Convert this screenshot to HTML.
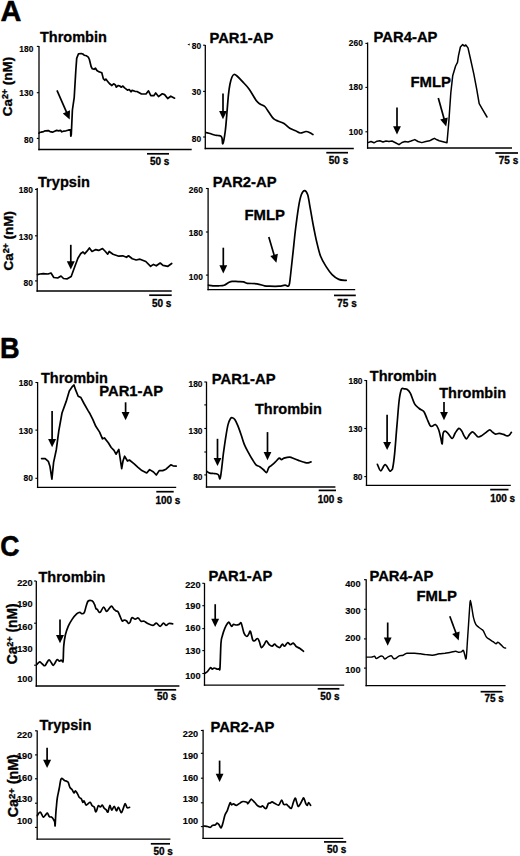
<!DOCTYPE html>
<html><head><meta charset="utf-8"><style>
html,body{margin:0;padding:0;background:#fff;width:520px;height:856px;overflow:hidden;}
svg{display:block;}
text{font-family:"Liberation Sans", sans-serif;font-weight:bold;fill:#000;stroke:#000;stroke-linejoin:round;}
</style></head><body>
<svg width="520" height="856" viewBox="0 0 520 856">
<g stroke="#000" fill="#000">
<text transform="translate(0.6,21.4) scale(0.98,1)" font-size="29.5" text-anchor="start" style="stroke-width:0.51px" >A</text>
<text transform="translate(0.0,358.1) scale(0.92,1)" font-size="29.5" text-anchor="start" style="stroke-width:0.54px" >B</text>
<text transform="translate(0.2,555.8) scale(0.9,1)" font-size="29.5" text-anchor="start" style="stroke-width:0.56px" >C</text>
<text x="40" y="42.4" font-size="14.5" text-anchor="start" style="stroke-width:0.3px" >Thrombin</text>
<line x1="39" y1="46" x2="39" y2="150.15" stroke-width="1.3"/>
<line x1="38.35" y1="149.5" x2="191.7" y2="149.5" stroke-width="1.3"/>
<line x1="36.8" y1="46.4" x2="39" y2="46.4" stroke-width="1.1"/>
<line x1="36.8" y1="92.7" x2="39" y2="92.7" stroke-width="1.1"/>
<line x1="36.8" y1="138.4" x2="39" y2="138.4" stroke-width="1.1"/>
<text x="33.3" y="51.807199999999995" font-size="8.4" text-anchor="end" style="stroke-width:0.15px" >180</text>
<text x="33.3" y="96.10719999999999" font-size="8.4" text-anchor="end" style="stroke-width:0.15px" >130</text>
<text x="33.3" y="142.90720000000002" font-size="8.4" text-anchor="end" style="stroke-width:0.15px" >80</text>
<text transform="translate(11.9,86.6) rotate(-90)" font-size="13.5" text-anchor="middle" style="stroke-width:0.35px">Ca<tspan font-size="8.8" dy="-3.6">2+</tspan><tspan dy="3.6"> (nM)</tspan></text>
<polyline points="39.0,133.2 39.6,132.4 41.1,132.2 43.6,131.6 45.3,130.8 48.3,130.6 50.0,131.6 52.5,132.2 54.6,131.3 56.7,130.4 58.8,130.8 60.5,130.4 61.8,131.8 63.5,131.2 66.0,130.8 68.1,130.2 69.8,129.8 70.6,130.3 70.8,136.2 71.3,134.5 72.4,110.0 74.2,97.7 75.8,70.8 76.7,58.4 78.5,53.8 81.3,53.5 82.8,54.0 84.2,55.2 86.5,55.8 88.3,57.2 89.4,59.5 91.1,66.5 92.3,68.8 94.0,69.3 95.5,68.2 96.9,70.5 98.6,71.6 100.4,72.2 101.8,72.8 103.3,78.6 104.8,80.3 105.9,79.1 107.3,80.9 109.6,83.8 111.9,85.5 113.6,83.8 115.4,84.9 116.3,87.2 118.3,85.5 120.0,86.1 121.1,87.2 122.9,86.1 124.6,87.8 127.5,90.1 129.2,89.5 131.0,91.8 132.1,90.4 135.0,91.3 137.0,91.5 141.5,94.0 146.0,94.0 148.5,90.8 150.8,95.7 153.8,95.7 155.7,93.0 158.5,96.6 162.3,93.8 164.6,94.6 167.7,98.5 170.8,96.2 174.6,98.2" fill="none" stroke-width="1.7" stroke-linejoin="round" stroke-linecap="round"/>
<line x1="57" y1="90.4" x2="66.79907963640674" y2="112.84305336080253" stroke-width="1.7"/>
<polygon points="69.7,119.4 62.8,113.5 70.0,110.3" stroke="none"/>
<line x1="147" y1="153.8" x2="169" y2="153.8" stroke-width="1.7"/>
<text transform="translate(150,165.2) scale(0.98,1)" font-size="10.2" text-anchor="start" style="stroke-width:0.31px" >50 s</text>
<text x="209.4" y="42.8" font-size="14.8" text-anchor="start" style="stroke-width:0.3px" >PAR1-AP</text>
<line x1="205.3" y1="45" x2="205.3" y2="149.15" stroke-width="1.3"/>
<line x1="204.65" y1="148.5" x2="353.8" y2="148.5" stroke-width="1.3"/>
<line x1="203.10000000000002" y1="45.2" x2="205.3" y2="45.2" stroke-width="1.1"/>
<line x1="203.10000000000002" y1="91.4" x2="205.3" y2="91.4" stroke-width="1.1"/>
<line x1="203.10000000000002" y1="137" x2="205.3" y2="137" stroke-width="1.1"/>
<text x="201.2" y="49.1072" font-size="8.4" text-anchor="end" style="stroke-width:0.15px" >80</text>
<text x="201.2" y="95.2072" font-size="8.4" text-anchor="end" style="stroke-width:0.15px" >30</text>
<text x="201.2" y="142.0072" font-size="8.4" text-anchor="end" style="stroke-width:0.15px" >80</text>
<polygon points="187.4,44.6 189.8,43.4 189.6,45.6" stroke="none"/>
<path d="M206.0,132.5 C206.7,132.7 208.6,133.1 210.0,133.5 C211.4,133.9 213.3,134.7 214.6,135.0 C215.9,135.3 217.0,135.3 218.0,135.5 C219.0,135.7 220.0,135.6 220.7,136.0 C221.4,136.4 221.6,136.7 222.0,138.0 C222.4,139.3 222.3,144.9 222.9,143.7 C223.5,142.5 224.6,136.1 225.3,130.8 C226.0,125.5 226.5,118.1 227.0,112.0 C227.5,105.9 228.0,99.1 228.5,94.4 C229.0,89.7 229.4,86.9 230.0,84.0 C230.6,81.1 231.3,78.6 232.0,77.0 C232.7,75.4 233.2,74.7 234.0,74.5 C234.8,74.3 235.6,74.8 237.0,76.0 C238.4,77.2 240.3,79.2 242.3,81.4 C244.3,83.6 246.9,86.0 249.2,89.2 C251.5,92.4 254.4,98.0 256.2,100.5 C258.0,103.0 258.6,103.0 260.0,104.0 C261.4,105.0 263.4,105.2 264.8,106.5 C266.2,107.8 267.2,110.0 268.7,112.0 C270.1,114.0 271.9,117.2 273.5,118.7 C275.1,120.2 276.6,120.4 278.3,121.2 C280.1,122.0 282.1,122.3 284.0,123.5 C285.9,124.7 287.9,127.1 289.8,128.3 C291.7,129.5 293.8,130.0 295.6,130.8 C297.4,131.6 298.7,132.9 300.4,133.0 C302.1,133.1 304.4,131.6 306.0,131.5 C307.6,131.4 308.9,132.2 310.0,132.7 C311.1,133.2 312.4,134.3 312.9,134.6" fill="none" stroke-width="1.7" stroke-linejoin="round" stroke-linecap="round"/>
<line x1="223" y1="93.6" x2="223.0" y2="112.1" stroke-width="1.7"/>
<polygon points="223.0,119.3 219.1,111.1 226.9,111.1" stroke="none"/>
<line x1="326.3" y1="152.7" x2="348" y2="152.7" stroke-width="1.7"/>
<text transform="translate(328.8,164.0) scale(0.98,1)" font-size="10.2" text-anchor="start" style="stroke-width:0.31px" >50 s</text>
<text x="373.6" y="41.9" font-size="14.8" text-anchor="start" style="stroke-width:0.3px" >PAR4-AP</text>
<line x1="367.6" y1="42.5" x2="367.6" y2="148.65" stroke-width="1.3"/>
<line x1="366.95000000000005" y1="148" x2="512" y2="148" stroke-width="1.3"/>
<line x1="365.40000000000003" y1="43.4" x2="367.6" y2="43.4" stroke-width="1.1"/>
<line x1="365.40000000000003" y1="87.4" x2="367.6" y2="87.4" stroke-width="1.1"/>
<line x1="365.40000000000003" y1="131.8" x2="367.6" y2="131.8" stroke-width="1.1"/>
<text x="362.8" y="46.407199999999996" font-size="8.4" text-anchor="end" style="stroke-width:0.15px" >260</text>
<text x="362.8" y="90.4072" font-size="8.4" text-anchor="end" style="stroke-width:0.15px" >180</text>
<text x="362.8" y="134.80720000000002" font-size="8.4" text-anchor="end" style="stroke-width:0.15px" >100</text>
<text x="410.4" y="86.6" font-size="14.9" text-anchor="start" style="stroke-width:0.3px" >FMLP</text>
<polyline points="368.0,142.6 371.0,141.5 374.0,142.8 377.0,141.2 379.8,140.8 383.0,142.0 386.0,141.0 389.0,141.6 392.0,141.0 395.0,142.5 399.0,144.7 402.0,142.5 405.0,141.5 408.0,142.0 411.0,141.0 414.8,139.6 418.0,141.5 421.8,142.6 425.8,141.5 429.6,140.8 432.0,139.5 434.4,138.3 437.0,139.8 439.2,140.8 444.0,142.0 447.0,142.7 448.8,122.0 450.8,93.0 452.7,75.8 455.6,66.0 457.5,62.3 458.5,55.6 460.4,47.0 462.7,44.6 464.2,46.0 465.8,45.0 468.0,47.9 470.4,58.5 473.8,73.8 476.7,89.2 479.2,103.7 482.5,109.4 487.0,117.0" fill="none" stroke-width="1.5" stroke-linejoin="round" stroke-linecap="round"/>
<line x1="397" y1="107.6" x2="397.0" y2="127.3" stroke-width="1.7"/>
<polygon points="397.0,134.5 393.1,126.3 400.9,126.3" stroke="none"/>
<line x1="438.3" y1="97.9" x2="444.27074187824223" y2="119.53424654583866" stroke-width="1.7"/>
<polygon points="446.2,126.5 440.2,119.6 447.8,117.5" stroke="none"/>
<line x1="495.4" y1="153" x2="518" y2="153" stroke-width="1.7"/>
<text transform="translate(498.8,164.0) scale(0.98,1)" font-size="10.2" text-anchor="start" style="stroke-width:0.31px" >75 s</text>
<text x="38" y="186.5" font-size="14.6" text-anchor="start" style="stroke-width:0.3px" >Trypsin</text>
<line x1="37.2" y1="188" x2="37.2" y2="291.65" stroke-width="1.3"/>
<line x1="36.550000000000004" y1="291" x2="171.7" y2="291" stroke-width="1.3"/>
<line x1="35.0" y1="189.4" x2="37.2" y2="189.4" stroke-width="1.1"/>
<line x1="35.0" y1="235.8" x2="37.2" y2="235.8" stroke-width="1.1"/>
<line x1="35.0" y1="280.9" x2="37.2" y2="280.9" stroke-width="1.1"/>
<text x="32.8" y="193.30720000000002" font-size="8.4" text-anchor="end" style="stroke-width:0.15px" >180</text>
<text x="32.8" y="239.90720000000002" font-size="8.4" text-anchor="end" style="stroke-width:0.15px" >130</text>
<text x="32.8" y="286.2072" font-size="8.4" text-anchor="end" style="stroke-width:0.15px" >80</text>
<text transform="translate(12.9,240.8) rotate(-90)" font-size="13.5" text-anchor="middle" style="stroke-width:0.35px">Ca<tspan font-size="8.8" dy="-3.6">2+</tspan><tspan dy="3.6"> (nM)</tspan></text>
<polyline points="37.5,274.6 40.0,274.0 43.3,273.7 48.0,274.0 51.0,273.0 53.8,277.5 57.7,278.0 61.0,276.0 63.5,278.5 67.3,278.8 71.2,276.5 74.0,268.8 77.9,258.3 80.8,253.5 83.0,252.0 84.6,253.8 87.0,251.2 89.4,248.0 92.0,251.5 95.8,249.6 98.7,250.4 102.5,248.5 105.4,251.5 107.7,254.2 109.2,251.5 113.0,254.2 118.8,256.2 122.7,255.8 126.5,257.3 128.5,255.8 132.3,258.7 136.2,260.0 140.0,259.2 145.8,261.5 150.6,266.3 153.5,264.4 156.3,265.8 160.2,263.0 163.0,265.4 167.9,266.3 171.7,263.5" fill="none" stroke-width="1.7" stroke-linejoin="round" stroke-linecap="round"/>
<line x1="70.8" y1="244.8" x2="70.8" y2="262.3" stroke-width="1.7"/>
<polygon points="70.8,269.5 66.8,261.3 74.8,261.3" stroke="none"/>
<line x1="149.2" y1="295.2" x2="171.7" y2="295.2" stroke-width="1.7"/>
<text transform="translate(152,306.9) scale(0.98,1)" font-size="10.2" text-anchor="start" style="stroke-width:0.31px" >50 s</text>
<text x="212.7" y="186.5" font-size="14.8" text-anchor="start" style="stroke-width:0.3px" >PAR2-AP</text>
<line x1="208.1" y1="188" x2="208.1" y2="290.34999999999997" stroke-width="1.3"/>
<line x1="207.45" y1="289.7" x2="355.2" y2="289.7" stroke-width="1.3"/>
<line x1="205.9" y1="188.5" x2="208.1" y2="188.5" stroke-width="1.1"/>
<line x1="205.9" y1="232" x2="208.1" y2="232" stroke-width="1.1"/>
<line x1="205.9" y1="275.1" x2="208.1" y2="275.1" stroke-width="1.1"/>
<text x="202.8" y="193.30720000000002" font-size="8.4" text-anchor="end" style="stroke-width:0.15px" >260</text>
<text x="202.8" y="236.1072" font-size="8.4" text-anchor="end" style="stroke-width:0.15px" >180</text>
<text x="202.8" y="279.9072" font-size="8.4" text-anchor="end" style="stroke-width:0.15px" >100</text>
<text x="244.4" y="219.8" font-size="14.9" text-anchor="start" style="stroke-width:0.3px" >FMLP</text>
<path d="M208.5,285.2 C209.2,285.3 211.3,285.7 213.0,285.8 C214.7,285.9 216.6,285.9 218.5,285.8 C220.4,285.7 222.4,285.8 224.2,285.2 C225.9,284.6 227.7,282.9 229.0,282.3 C230.3,281.7 230.5,281.4 232.0,281.3 C233.5,281.2 236.1,281.5 238.0,281.6 C239.9,281.7 241.9,281.6 243.5,281.9 C245.1,282.2 245.1,283.0 247.3,283.3 C249.6,283.6 254.1,283.4 257.0,283.8 C259.9,284.2 262.5,285.4 264.6,285.8 C266.7,286.2 267.2,286.1 269.6,286.2 C272.0,286.3 276.6,286.4 279.2,286.2 C281.8,286.0 283.4,285.3 285.0,285.2 C286.6,285.1 287.9,287.2 288.8,285.8 C289.7,284.4 289.8,281.6 290.4,276.5 C291.0,271.4 291.8,263.4 292.7,255.4 C293.6,247.4 294.6,236.5 295.6,228.5 C296.6,220.5 297.6,212.9 298.5,207.3 C299.4,201.7 300.3,197.6 301.3,194.8 C302.3,192.0 303.5,190.6 304.6,190.6 C305.7,190.6 306.7,191.7 307.7,194.8 C308.7,197.9 309.4,203.9 310.4,209.2 C311.4,214.5 312.4,221.1 313.5,226.5 C314.6,231.9 315.5,236.9 316.7,241.9 C317.9,246.9 319.0,252.1 320.6,256.3 C322.2,260.5 324.4,263.8 326.3,266.9 C328.2,269.9 330.0,272.5 332.1,274.6 C334.2,276.7 336.5,278.4 338.8,279.4 C341.1,280.4 345.0,280.2 346.2,280.4" fill="none" stroke-width="1.7" stroke-linejoin="round" stroke-linecap="round"/>
<line x1="223.3" y1="247.7" x2="223.3" y2="266.2" stroke-width="1.7"/>
<polygon points="223.3,273.4 219.4,265.2 227.2,265.2" stroke="none"/>
<line x1="268.8" y1="237.1" x2="274.3551236066682" y2="255.8673094819872" stroke-width="1.7"/>
<polygon points="276.4,262.8 270.3,256.0 277.9,253.8" stroke="none"/>
<line x1="334" y1="295.4" x2="355.8" y2="295.4" stroke-width="1.7"/>
<text transform="translate(337.3,306.5) scale(0.98,1)" font-size="10.2" text-anchor="start" style="stroke-width:0.31px" >75 s</text>
<text x="41" y="382.5" font-size="14.5" text-anchor="start" style="stroke-width:0.3px" >Thrombin</text>
<line x1="37.6" y1="382" x2="37.6" y2="488.04999999999995" stroke-width="1.3"/>
<line x1="36.95" y1="487.4" x2="176.2" y2="487.4" stroke-width="1.3"/>
<line x1="35.4" y1="382.5" x2="37.6" y2="382.5" stroke-width="1.1"/>
<line x1="35.4" y1="430.1" x2="37.6" y2="430.1" stroke-width="1.1"/>
<line x1="35.4" y1="478.3" x2="37.6" y2="478.3" stroke-width="1.1"/>
<text x="32.8" y="385.5072" font-size="8.4" text-anchor="end" style="stroke-width:0.15px" >180</text>
<text x="32.8" y="433.5072" font-size="8.4" text-anchor="end" style="stroke-width:0.15px" >130</text>
<text x="32.8" y="481.3072" font-size="8.4" text-anchor="end" style="stroke-width:0.15px" >80</text>
<text x="99.2" y="395.6" font-size="14.8" text-anchor="start" style="stroke-width:0.3px" >PAR1-AP</text>
<polyline points="41.6,458.6 45.2,458.6 48.3,461.3 50.0,466.6 51.9,479.2 53.6,462.4 56.3,449.7 58.8,430.8 62.0,413.0 66.2,401.4 69.3,391.0 72.5,386.3 74.0,385.0 75.6,389.9 78.2,396.2 80.9,397.6 84.0,403.5 88.2,410.9 90.0,413.8 92.9,419.6 95.8,426.3 99.6,432.1 102.5,438.8 104.4,437.9 108.3,442.7 111.2,447.5 114.0,450.4 116.0,454.2 118.8,449.4 121.7,468.7 123.0,461.0 124.6,456.2 127.5,461.0 129.4,460.0 134.2,463.8 138.0,467.3 141.9,470.6 146.7,473.0 149.6,469.6 153.5,472.0 156.3,475.0 159.2,470.6 162.7,470.6 166.0,469.2 170.8,464.8 173.0,465.8 176.2,466.2" fill="none" stroke-width="1.7" stroke-linejoin="round" stroke-linecap="round"/>
<line x1="52.1" y1="410.9" x2="52.1" y2="440.1" stroke-width="1.7"/>
<polygon points="52.1,447.3 48.1,439.1 56.1,439.1" stroke="none"/>
<line x1="125.6" y1="402.3" x2="125.6" y2="413.1" stroke-width="1.7"/>
<polygon points="125.6,420.3 121.6,412.1 129.5,412.1" stroke="none"/>
<line x1="156.3" y1="491.7" x2="173.7" y2="491.7" stroke-width="1.7"/>
<text transform="translate(155.4,504.0) scale(0.98,1)" font-size="10.2" text-anchor="start" style="stroke-width:0.31px" >100 s</text>
<text x="211.7" y="383.5" font-size="14.8" text-anchor="start" style="stroke-width:0.3px" >PAR1-AP</text>
<line x1="206.5" y1="381.7" x2="206.5" y2="487.65" stroke-width="1.3"/>
<line x1="205.85" y1="487" x2="335.4" y2="487" stroke-width="1.3"/>
<line x1="204.3" y1="382" x2="206.5" y2="382" stroke-width="1.1"/>
<line x1="204.3" y1="404.9" x2="206.5" y2="404.9" stroke-width="1.1"/>
<line x1="204.3" y1="428.5" x2="206.5" y2="428.5" stroke-width="1.1"/>
<line x1="204.3" y1="452" x2="206.5" y2="452" stroke-width="1.1"/>
<line x1="204.3" y1="474.9" x2="206.5" y2="474.9" stroke-width="1.1"/>
<text x="202.5" y="387.3072" font-size="8.4" text-anchor="end" style="stroke-width:0.15px" >180</text>
<text x="202.5" y="433.9072" font-size="8.4" text-anchor="end" style="stroke-width:0.15px" >130</text>
<text x="202.5" y="480.2072" font-size="8.4" text-anchor="end" style="stroke-width:0.15px" >80</text>
<text x="255" y="414.2" font-size="14.5" text-anchor="start" style="stroke-width:0.3px" >Thrombin</text>
<path d="M207.0,471.5 C207.5,471.8 208.7,472.8 209.8,473.1 C210.9,473.4 212.6,473.4 213.7,473.5 C214.8,473.6 215.7,473.6 216.5,473.8 C217.3,474.1 217.9,474.2 218.5,475.0 C219.1,475.8 219.5,479.4 220.0,478.8 C220.5,478.2 220.8,475.6 221.3,471.5 C221.9,467.4 222.6,460.0 223.3,454.2 C224.1,448.4 225.0,441.9 225.8,436.9 C226.6,431.9 227.3,427.4 228.1,424.4 C228.9,421.4 229.7,419.8 230.4,418.7 C231.1,417.6 231.6,417.5 232.3,417.7 C233.0,417.9 233.9,418.3 234.8,419.6 C235.7,420.9 236.6,422.8 237.7,425.4 C238.8,428.0 240.1,431.8 241.2,435.0 C242.3,438.2 243.2,441.7 244.4,444.6 C245.6,447.5 247.0,449.9 248.3,452.3 C249.6,454.7 250.8,456.9 252.1,459.0 C253.4,461.1 254.7,463.5 256.0,464.8 C257.3,466.1 258.5,465.8 259.8,466.7 C261.1,467.6 262.7,469.0 263.8,470.0 C264.9,471.0 265.9,472.9 266.7,472.5 C267.5,472.1 267.9,468.9 268.7,467.7 C269.5,466.5 270.4,466.4 271.5,465.4 C272.6,464.4 274.1,463.1 275.4,461.9 C276.7,460.7 278.2,458.5 279.2,458.1 C280.2,457.7 280.7,459.6 281.5,459.6 C282.3,459.6 282.6,458.5 284.0,458.1 C285.4,457.7 288.2,457.0 289.8,457.1 C291.4,457.2 292.2,457.9 293.7,458.5 C295.1,459.1 296.8,459.8 298.5,460.4 C300.2,461.0 302.6,461.9 304.2,462.3 C305.8,462.7 306.9,463.0 308.0,462.9 C309.1,462.8 310.5,462.1 311.0,461.9" fill="none" stroke-width="1.7" stroke-linejoin="round" stroke-linecap="round"/>
<line x1="217.5" y1="438.8" x2="217.5" y2="458.9" stroke-width="1.7"/>
<polygon points="217.5,466.1 213.6,457.9 221.4,457.9" stroke="none"/>
<line x1="267.5" y1="432.1" x2="267.5" y2="453.1" stroke-width="1.7"/>
<polygon points="267.5,460.3 263.6,452.1 271.4,452.1" stroke="none"/>
<line x1="318.7" y1="490.4" x2="336" y2="490.4" stroke-width="1.7"/>
<text transform="translate(317.7,502.9) scale(0.98,1)" font-size="10.2" text-anchor="start" style="stroke-width:0.31px" >100 s</text>
<text x="369.8" y="381.2" font-size="14.5" text-anchor="start" style="stroke-width:0.3px" >Thrombin</text>
<line x1="366.5" y1="380" x2="366.5" y2="486.04999999999995" stroke-width="1.3"/>
<line x1="365.85" y1="485.4" x2="510.8" y2="485.4" stroke-width="1.3"/>
<line x1="364.3" y1="380.5" x2="366.5" y2="380.5" stroke-width="1.1"/>
<line x1="364.3" y1="428.5" x2="366.5" y2="428.5" stroke-width="1.1"/>
<line x1="364.3" y1="476.6" x2="366.5" y2="476.6" stroke-width="1.1"/>
<text x="362.5" y="384.4072" font-size="8.4" text-anchor="end" style="stroke-width:0.15px" >180</text>
<text x="362.5" y="432.2072" font-size="8.4" text-anchor="end" style="stroke-width:0.15px" >130</text>
<text x="362.5" y="480.0072" font-size="8.4" text-anchor="end" style="stroke-width:0.15px" >80</text>
<text x="439.2" y="397.5" font-size="14.5" text-anchor="start" style="stroke-width:0.3px" >Thrombin</text>
<path d="M377.4,464.3 C378.0,465.4 379.5,470.8 380.8,470.8 C382.1,470.9 383.6,464.6 385.1,464.6 C386.6,464.6 388.6,469.9 389.7,470.8 C390.8,471.7 391.1,470.6 391.6,470.0 C392.1,469.4 392.3,470.2 392.8,467.5 C393.3,464.8 393.9,460.7 394.6,453.8 C395.3,446.9 396.1,435.2 396.9,426.2 C397.7,417.2 398.4,406.2 399.2,400.0 C400.0,393.8 400.7,391.1 401.5,389.2 C402.3,387.3 403.1,388.9 404.0,388.9 C404.9,388.9 405.8,388.5 406.9,389.2 C407.9,389.9 409.0,390.7 410.3,393.1 C411.6,395.5 413.1,401.2 414.6,403.8 C416.1,406.4 417.7,407.2 419.2,408.5 C420.7,409.8 422.5,409.8 423.8,411.5 C425.1,413.2 425.9,416.2 426.9,418.5 C427.9,420.8 429.1,424.1 430.0,425.4 C430.9,426.7 431.4,426.3 432.3,426.2 C433.2,426.1 434.4,424.1 435.4,424.6 C436.4,425.1 437.6,427.0 438.5,429.2 C439.4,431.4 440.2,435.6 440.8,438.0 C441.4,440.4 441.8,444.6 442.2,443.8 C442.6,443.0 442.6,435.1 443.2,433.0 C443.8,430.9 444.9,431.1 445.8,431.3 C446.7,431.5 447.6,433.2 448.7,434.4 C449.8,435.6 451.2,438.7 452.3,438.5 C453.4,438.3 454.1,434.7 455.2,433.0 C456.3,431.3 457.7,428.8 458.8,428.4 C459.9,428.0 460.7,429.4 461.6,430.8 C462.6,432.2 463.6,435.3 464.5,436.6 C465.4,437.9 465.8,439.2 466.7,438.8 C467.6,438.4 468.6,435.6 469.6,434.4 C470.6,433.2 471.5,431.8 472.5,431.8 C473.5,431.8 474.4,433.5 475.4,434.4 C476.3,435.3 477.1,436.8 478.2,437.0 C479.3,437.2 480.5,436.4 481.8,435.6 C483.1,434.8 484.9,433.3 486.2,432.3 C487.5,431.3 488.7,429.8 489.8,429.8 C490.9,429.8 491.7,431.6 492.7,432.3 C493.7,433.0 494.5,433.9 495.6,434.1 C496.7,434.3 497.9,433.2 499.2,433.3 C500.5,433.4 502.2,434.0 503.5,434.4 C504.8,434.8 506.1,435.8 507.1,435.9 C508.1,436.0 508.6,435.8 509.3,435.2 C510.0,434.6 511.0,432.8 511.4,432.3" fill="none" stroke-width="1.7" stroke-linejoin="round" stroke-linecap="round"/>
<line x1="387.1" y1="414.8" x2="387.1" y2="442.9" stroke-width="1.7"/>
<polygon points="387.1,450.1 383.2,441.9 391.1,441.9" stroke="none"/>
<line x1="444" y1="401.9" x2="444.0" y2="413.1" stroke-width="1.7"/>
<polygon points="444.0,420.3 440.1,412.1 447.9,412.1" stroke="none"/>
<line x1="490.2" y1="489.6" x2="508.5" y2="489.6" stroke-width="1.7"/>
<text transform="translate(490.2,501.5) scale(0.98,1)" font-size="10.2" text-anchor="start" style="stroke-width:0.31px" >100 s</text>
<text x="38.5" y="581.5" font-size="14.5" text-anchor="start" style="stroke-width:0.3px" >Thrombin</text>
<line x1="36.3" y1="581" x2="36.3" y2="686.65" stroke-width="1.3"/>
<line x1="35.65" y1="686" x2="179.4" y2="686" stroke-width="1.3"/>
<line x1="34.099999999999994" y1="581" x2="36.3" y2="581" stroke-width="1.1"/>
<line x1="34.099999999999994" y1="623.2" x2="36.3" y2="623.2" stroke-width="1.1"/>
<line x1="34.099999999999994" y1="665.2" x2="36.3" y2="665.2" stroke-width="1.1"/>
<text transform="translate(32.5,586.0788) scale(1.07,1)" font-size="8.6" text-anchor="end" style="stroke-width:0.14px" >220</text>
<text transform="translate(32.5,606.9788) scale(1.07,1)" font-size="8.6" text-anchor="end" style="stroke-width:0.14px" >190</text>
<text transform="translate(32.5,629.8788) scale(1.07,1)" font-size="8.6" text-anchor="end" style="stroke-width:0.14px" >160</text>
<text transform="translate(32.5,652.0788) scale(1.07,1)" font-size="8.6" text-anchor="end" style="stroke-width:0.14px" >130</text>
<text transform="translate(32.5,682.3788) scale(1.07,1)" font-size="8.6" text-anchor="end" style="stroke-width:0.14px" >100</text>
<text transform="translate(16.8,633.9) rotate(-90)" font-size="13.8" text-anchor="middle" style="stroke-width:0.35px">Ca<tspan font-size="9.0" dy="-3.6">2+</tspan><tspan dy="3.6"> (nM)</tspan></text>
<path d="M36.9,664.5 C37.4,664.0 38.7,661.9 39.6,661.8 C40.5,661.7 41.4,663.4 42.3,664.0 C43.2,664.6 44.0,666.0 44.8,665.7 C45.6,665.5 46.3,663.5 47.0,662.5 C47.7,661.5 48.4,659.8 49.1,659.8 C49.8,659.8 50.5,661.6 51.2,662.5 C51.9,663.4 52.6,665.4 53.3,665.4 C54.0,665.4 54.6,663.5 55.3,662.5 C55.9,661.5 56.5,659.7 57.2,659.5 C57.9,659.3 58.8,661.0 59.5,661.1 C60.2,661.2 60.7,660.0 61.2,660.1 C61.8,660.2 62.5,661.8 62.8,661.8 C63.1,661.8 63.0,662.7 63.2,660.0 C63.4,657.3 63.4,649.6 63.8,645.4 C64.2,641.2 64.7,638.0 65.4,634.8 C66.2,631.6 67.2,628.8 68.3,626.2 C69.4,623.6 70.7,621.5 72.1,619.4 C73.5,617.3 75.6,614.9 76.9,613.7 C78.2,612.5 79.0,612.3 79.8,612.3 C80.6,612.3 81.0,613.6 81.7,613.7 C82.4,613.8 83.5,614.0 84.2,612.7 C85.0,611.4 85.5,608.0 86.2,606.0 C86.9,604.0 87.2,601.9 88.2,601.0 C89.2,600.1 91.0,600.3 92.0,600.8 C93.0,601.3 93.8,602.8 94.4,604.1 C95.1,605.4 95.4,607.6 95.9,608.5 C96.4,609.4 96.8,608.8 97.3,609.4 C97.8,610.0 98.6,611.9 99.2,612.3 C99.8,612.7 100.0,612.7 100.7,611.8 C101.4,610.9 102.7,607.1 103.6,607.0 C104.5,606.9 105.4,610.2 106.0,610.9 C106.6,611.5 106.5,611.7 107.4,610.9 C108.3,610.1 110.2,606.4 111.3,606.1 C112.4,605.9 113.3,608.6 114.1,609.4 C114.9,610.2 115.4,610.5 116.1,610.9 C116.8,611.3 117.3,610.8 118.0,611.8 C118.7,612.8 119.7,615.6 120.4,617.1 C121.1,618.6 121.7,620.5 122.3,621.0 C122.9,621.5 123.5,620.0 124.2,620.0 C124.9,620.0 125.9,620.4 126.6,621.0 C127.3,621.6 128.0,623.2 128.6,623.4 C129.2,623.6 129.4,623.3 130.0,622.4 C130.6,621.5 131.0,618.2 131.9,617.7 C132.8,617.2 134.2,619.2 135.2,619.2 C136.2,619.2 137.1,617.7 138.1,618.0 C139.1,618.3 140.0,620.7 141.0,621.2 C142.0,621.7 143.1,620.8 144.2,621.2 C145.3,621.6 146.2,622.8 147.7,623.5 C149.2,624.2 151.7,625.5 153.1,625.4 C154.5,625.3 155.1,623.0 156.3,623.1 C157.5,623.2 159.0,626.3 160.2,626.3 C161.4,626.3 162.5,623.2 163.5,623.1 C164.5,623.0 165.1,625.3 166.0,625.4 C166.9,625.5 167.7,623.8 168.8,623.5 C169.9,623.2 172.0,623.8 172.7,623.8" fill="none" stroke-width="1.7" stroke-linejoin="round" stroke-linecap="round"/>
<line x1="60" y1="619.4" x2="60.0" y2="636.0" stroke-width="1.7"/>
<polygon points="60.0,643.2 56.0,635.0 64.0,635.0" stroke="none"/>
<line x1="154.4" y1="689.8" x2="176.2" y2="689.8" stroke-width="1.7"/>
<text transform="translate(156.9,700.2) scale(0.98,1)" font-size="10.2" text-anchor="start" style="stroke-width:0.31px" >50 s</text>
<text x="208.5" y="581.2" font-size="14.8" text-anchor="start" style="stroke-width:0.3px" >PAR1-AP</text>
<line x1="204.5" y1="583.1" x2="204.5" y2="685.75" stroke-width="1.3"/>
<line x1="203.85" y1="685.1" x2="344.2" y2="685.1" stroke-width="1.3"/>
<line x1="202.3" y1="583.3" x2="204.5" y2="583.3" stroke-width="1.1"/>
<line x1="202.3" y1="605.7" x2="204.5" y2="605.7" stroke-width="1.1"/>
<line x1="202.3" y1="628.6" x2="204.5" y2="628.6" stroke-width="1.1"/>
<line x1="202.3" y1="650.6" x2="204.5" y2="650.6" stroke-width="1.1"/>
<line x1="202.3" y1="673.5" x2="204.5" y2="673.5" stroke-width="1.1"/>
<text transform="translate(200.5,587.7788) scale(1.07,1)" font-size="8.6" text-anchor="end" style="stroke-width:0.14px" >220</text>
<text transform="translate(200.5,609.2788) scale(1.07,1)" font-size="8.6" text-anchor="end" style="stroke-width:0.14px" >190</text>
<text transform="translate(200.5,630.5788) scale(1.07,1)" font-size="8.6" text-anchor="end" style="stroke-width:0.14px" >160</text>
<text transform="translate(200.5,654.0788) scale(1.07,1)" font-size="8.6" text-anchor="end" style="stroke-width:0.14px" >130</text>
<text transform="translate(200.5,678.7788) scale(1.07,1)" font-size="8.6" text-anchor="end" style="stroke-width:0.14px" >100</text>
<path d="M204.6,673.5 C205.1,673.2 206.5,672.5 207.5,671.5 C208.5,670.5 209.6,668.1 210.4,667.7 C211.2,667.3 211.7,669.2 212.3,669.2 C212.9,669.2 213.4,668.0 214.2,668.0 C215.0,668.0 216.3,669.1 217.1,669.2 C217.9,669.3 218.5,669.0 219.0,668.7 C219.5,668.5 219.7,672.0 220.0,667.7 C220.3,663.4 220.6,648.0 221.0,642.7 C221.4,637.4 221.7,638.4 222.3,636.0 C222.9,633.6 223.9,630.4 224.8,628.3 C225.7,626.1 227.0,624.1 227.7,623.1 C228.4,622.1 228.6,622.0 229.2,622.5 C229.8,623.0 230.8,626.0 231.5,626.3 C232.2,626.6 232.7,624.6 233.5,624.4 C234.3,624.2 235.4,625.0 236.3,625.0 C237.2,625.0 238.4,624.7 239.2,624.4 C240.0,624.1 240.4,621.6 241.2,623.1 C242.0,624.6 243.1,630.9 244.0,633.1 C244.9,635.3 246.1,636.4 246.9,636.5 C247.7,636.6 248.2,634.9 248.8,634.0 C249.4,633.1 249.8,630.2 250.4,631.2 C251.1,632.2 252.0,638.2 252.7,639.8 C253.4,641.4 253.8,641.0 254.6,640.8 C255.4,640.6 256.7,638.4 257.5,638.5 C258.3,638.6 258.8,640.2 259.4,641.7 C260.0,643.2 260.5,647.0 261.3,647.5 C262.1,648.0 263.4,645.7 264.2,644.6 C265.0,643.5 265.5,640.8 266.3,640.8 C267.1,640.8 268.2,643.7 269.2,644.6 C270.2,645.5 271.2,646.3 272.1,646.2 C273.0,646.1 273.8,644.2 274.6,644.2 C275.4,644.2 276.0,645.7 276.9,646.2 C277.8,646.8 278.9,647.8 279.8,647.5 C280.7,647.2 281.5,644.4 282.3,644.2 C283.1,644.0 283.7,646.5 284.6,646.2 C285.5,646.0 286.5,643.0 287.5,642.7 C288.5,642.4 289.4,644.5 290.4,644.6 C291.4,644.7 292.3,642.8 293.3,643.1 C294.3,643.4 295.1,645.6 296.2,646.5 C297.3,647.4 298.8,647.7 300.0,648.5 C301.2,649.3 302.9,650.8 303.5,651.3" fill="none" stroke-width="1.7" stroke-linejoin="round" stroke-linecap="round"/>
<line x1="215.2" y1="604.2" x2="215.2" y2="619.8" stroke-width="1.7"/>
<polygon points="215.2,627.0 211.2,618.8 219.1,618.8" stroke="none"/>
<line x1="317.7" y1="688.8" x2="339.4" y2="688.8" stroke-width="1.7"/>
<text transform="translate(320.2,699.6) scale(0.98,1)" font-size="10.2" text-anchor="start" style="stroke-width:0.31px" >50 s</text>
<text x="369.4" y="580.8" font-size="14.8" text-anchor="start" style="stroke-width:0.3px" >PAR4-AP</text>
<line x1="366.2" y1="579.3" x2="366.2" y2="686.25" stroke-width="1.3"/>
<line x1="365.55" y1="685.6" x2="505.6" y2="685.6" stroke-width="1.3"/>
<line x1="364.0" y1="579.7" x2="366.2" y2="579.7" stroke-width="1.1"/>
<line x1="364.0" y1="609.3" x2="366.2" y2="609.3" stroke-width="1.1"/>
<line x1="364.0" y1="638.9" x2="366.2" y2="638.9" stroke-width="1.1"/>
<line x1="364.0" y1="668.1" x2="366.2" y2="668.1" stroke-width="1.1"/>
<text transform="translate(360.5,586.7788) scale(1.07,1)" font-size="8.6" text-anchor="end" style="stroke-width:0.14px" >400</text>
<text transform="translate(360.5,613.7788) scale(1.07,1)" font-size="8.6" text-anchor="end" style="stroke-width:0.14px" >300</text>
<text transform="translate(360.5,640.6788) scale(1.07,1)" font-size="8.6" text-anchor="end" style="stroke-width:0.14px" >200</text>
<text transform="translate(360.5,672.9788) scale(1.07,1)" font-size="8.6" text-anchor="end" style="stroke-width:0.14px" >100</text>
<text x="416.5" y="601.3" font-size="14.9" text-anchor="start" style="stroke-width:0.3px" >FMLP</text>
<path d="M366.5,657.1 C367.3,657.1 369.9,657.2 371.3,657.1 C372.7,657.0 373.8,656.0 374.6,656.2 C375.4,656.4 375.2,658.5 376.2,658.5 C377.2,658.5 379.3,656.5 380.4,656.2 C381.5,655.9 382.2,656.0 382.9,656.5 C383.6,657.0 384.0,658.9 384.8,659.0 C385.6,659.1 386.6,657.6 387.7,657.1 C388.8,656.6 390.2,655.6 391.2,655.8 C392.2,656.0 392.6,658.1 393.5,658.5 C394.4,658.9 395.4,658.6 396.3,658.1 C397.2,657.6 398.1,656.3 399.2,655.8 C400.3,655.3 401.8,655.6 403.1,655.2 C404.4,654.8 405.0,653.6 406.9,653.3 C408.8,653.0 412.4,653.2 414.6,653.3 C416.9,653.4 418.5,653.6 420.4,653.8 C422.3,654.0 423.8,654.4 425.8,654.6 C427.8,654.8 430.3,655.3 432.5,655.2 C434.7,655.1 437.1,654.1 439.2,653.8 C441.3,653.5 443.1,653.5 445.0,653.3 C446.9,653.0 449.0,652.6 450.8,652.3 C452.6,652.0 454.3,651.3 455.6,651.3 C456.9,651.3 457.6,652.2 458.5,652.3 C459.4,652.4 460.5,652.2 461.3,651.9 C462.1,651.6 462.8,650.0 463.3,650.4 C463.9,650.8 464.1,652.9 464.6,654.2 C465.1,655.5 465.7,661.0 466.2,658.1 C466.7,655.2 467.1,645.2 467.7,636.9 C468.3,628.6 469.2,614.2 469.6,608.1 C470.1,602.0 470.0,600.4 470.4,600.4 C470.8,600.4 471.4,605.2 471.9,608.1 C472.4,611.0 472.9,615.0 473.5,617.7 C474.1,620.4 474.9,622.8 475.8,624.4 C476.7,626.0 477.8,626.5 478.7,627.3 C479.6,628.1 480.7,628.6 481.5,629.2 C482.3,629.9 482.7,629.9 483.5,631.2 C484.3,632.5 485.4,635.6 486.3,636.9 C487.2,638.2 488.1,638.4 489.2,639.2 C490.3,640.0 492.0,641.0 493.1,641.7 C494.2,642.5 495.2,643.6 496.0,643.7 C496.8,643.8 497.1,642.1 497.9,642.3 C498.7,642.4 499.8,643.7 500.8,644.6 C501.8,645.5 502.9,646.9 503.7,647.5 C504.5,648.1 505.3,648.0 505.6,648.1" fill="none" stroke-width="1.45" stroke-linejoin="round" stroke-linecap="round"/>
<line x1="387.7" y1="622.5" x2="387.7" y2="638.5" stroke-width="1.7"/>
<polygon points="387.7,645.7 383.8,637.5 391.6,637.5" stroke="none"/>
<line x1="449.8" y1="616.2" x2="456.2517176397336" y2="633.7012110687026" stroke-width="1.7"/>
<polygon points="458.7,640.5 452.2,634.1 459.6,631.4" stroke="none"/>
<line x1="480.6" y1="691.7" x2="502.3" y2="691.7" stroke-width="1.7"/>
<text transform="translate(484.4,702.1) scale(0.98,1)" font-size="10.2" text-anchor="start" style="stroke-width:0.31px" >75 s</text>
<text x="39.4" y="729.8" font-size="14.6" text-anchor="start" style="stroke-width:0.3px" >Trypsin</text>
<line x1="37.2" y1="730.4" x2="37.2" y2="839.85" stroke-width="1.3"/>
<line x1="36.550000000000004" y1="839.2" x2="170.4" y2="839.2" stroke-width="1.3"/>
<line x1="35.0" y1="730.8" x2="37.2" y2="730.8" stroke-width="1.1"/>
<line x1="35.0" y1="754.9" x2="37.2" y2="754.9" stroke-width="1.1"/>
<line x1="35.0" y1="778.8" x2="37.2" y2="778.8" stroke-width="1.1"/>
<line x1="35.0" y1="803.2" x2="37.2" y2="803.2" stroke-width="1.1"/>
<line x1="35.0" y1="827.4" x2="37.2" y2="827.4" stroke-width="1.1"/>
<text transform="translate(32.3,738.0788) scale(1.07,1)" font-size="8.6" text-anchor="end" style="stroke-width:0.14px" >220</text>
<text transform="translate(32.3,759.2788) scale(1.07,1)" font-size="8.6" text-anchor="end" style="stroke-width:0.14px" >190</text>
<text transform="translate(32.3,780.6788) scale(1.07,1)" font-size="8.6" text-anchor="end" style="stroke-width:0.14px" >160</text>
<text transform="translate(32.3,802.4788) scale(1.07,1)" font-size="8.6" text-anchor="end" style="stroke-width:0.14px" >130</text>
<text transform="translate(32.3,824.4788) scale(1.07,1)" font-size="8.6" text-anchor="end" style="stroke-width:0.14px" >100</text>
<text transform="translate(18.4,785.7) rotate(-90)" font-size="14.3" text-anchor="middle" style="stroke-width:0.35px">Ca<tspan font-size="9.3" dy="-3.6">2+</tspan><tspan dy="3.6"> (nM)</tspan></text>
<path d="M37.2,815.7 C37.7,815.1 39.2,811.9 40.2,812.1 C41.2,812.3 42.3,816.5 43.2,817.0 C44.1,817.5 44.8,815.6 45.5,815.0 C46.2,814.4 46.8,812.8 47.4,813.1 C48.0,813.4 48.7,816.1 49.4,816.7 C50.1,817.4 50.8,816.7 51.4,817.0 C52.0,817.3 52.5,817.8 53.0,818.6 C53.5,819.4 54.2,820.4 54.6,821.6 C55.0,822.8 54.9,826.8 55.1,825.8 C55.3,824.8 55.5,818.5 55.7,815.5 C55.9,812.5 56.0,810.6 56.3,807.7 C56.6,804.8 56.8,801.2 57.3,798.0 C57.8,794.8 58.6,791.7 59.2,788.5 C59.9,785.3 60.3,780.1 61.2,778.8 C62.1,777.4 63.3,779.8 64.4,780.4 C65.5,781.0 67.1,780.9 68.0,782.1 C68.9,783.3 69.3,786.3 70.0,787.5 C70.7,788.7 71.3,788.6 72.0,789.5 C72.7,790.4 73.4,792.7 74.0,792.9 C74.6,793.1 74.8,790.8 75.4,790.9 C76.0,791.0 76.7,792.5 77.4,793.6 C78.1,794.7 78.7,796.7 79.4,797.6 C80.1,798.5 80.8,798.1 81.4,798.9 C82.0,799.7 82.3,801.9 82.8,802.3 C83.2,802.6 83.5,800.5 84.1,801.0 C84.6,801.5 85.4,804.6 86.1,805.0 C86.8,805.4 87.5,804.1 88.2,803.6 C88.9,803.1 89.5,801.9 90.2,802.3 C90.9,802.6 91.5,804.9 92.2,805.7 C92.9,806.5 93.6,806.0 94.2,807.0 C94.8,808.0 95.1,811.2 95.6,811.7 C96.0,812.2 96.5,810.7 96.9,809.7 C97.4,808.7 97.7,806.2 98.3,805.7 C98.9,805.2 99.6,807.1 100.3,807.0 C101.0,806.9 101.7,804.8 102.3,805.0 C102.9,805.2 103.4,807.2 104.0,808.0 C104.6,808.8 105.3,808.9 106.0,809.6 C106.7,810.3 107.3,812.8 107.9,812.1 C108.5,811.4 109.2,805.7 109.8,805.4 C110.4,805.1 111.0,810.1 111.7,810.2 C112.4,810.4 113.4,806.2 114.2,806.3 C115.0,806.4 115.8,810.6 116.5,810.8 C117.2,811.0 117.7,807.0 118.5,807.3 C119.3,807.6 120.5,812.5 121.3,812.7 C122.1,812.9 122.6,809.8 123.3,808.3 C124.0,806.8 124.6,803.6 125.2,803.5 C125.8,803.4 126.4,807.1 127.1,807.7 C127.8,808.3 129.2,807.4 129.6,807.3" fill="none" stroke-width="1.7" stroke-linejoin="round" stroke-linecap="round"/>
<line x1="47.1" y1="747.7" x2="47.1" y2="760.8" stroke-width="1.7"/>
<polygon points="47.1,768.0 43.1,759.8 51.1,759.8" stroke="none"/>
<line x1="150.8" y1="843.8" x2="170" y2="843.8" stroke-width="1.7"/>
<text transform="translate(153.5,854.6) scale(0.98,1)" font-size="10.2" text-anchor="start" style="stroke-width:0.31px" >50 s</text>
<text x="210.4" y="731.7" font-size="14.8" text-anchor="start" style="stroke-width:0.3px" >PAR2-AP</text>
<line x1="203.1" y1="729.7" x2="203.1" y2="839.05" stroke-width="1.3"/>
<line x1="202.45" y1="838.4" x2="343.3" y2="838.4" stroke-width="1.3"/>
<line x1="200.9" y1="730.5" x2="203.1" y2="730.5" stroke-width="1.1"/>
<line x1="200.9" y1="753.3" x2="203.1" y2="753.3" stroke-width="1.1"/>
<line x1="200.9" y1="778.2" x2="203.1" y2="778.2" stroke-width="1.1"/>
<line x1="200.9" y1="802.8" x2="203.1" y2="802.8" stroke-width="1.1"/>
<line x1="200.9" y1="826.6" x2="203.1" y2="826.6" stroke-width="1.1"/>
<text transform="translate(198.2,737.2788) scale(1.07,1)" font-size="8.6" text-anchor="end" style="stroke-width:0.14px" >220</text>
<text transform="translate(198.2,759.0788) scale(1.07,1)" font-size="8.6" text-anchor="end" style="stroke-width:0.14px" >190</text>
<text transform="translate(198.2,780.5788) scale(1.07,1)" font-size="8.6" text-anchor="end" style="stroke-width:0.14px" >160</text>
<text transform="translate(198.2,802.0788) scale(1.07,1)" font-size="8.6" text-anchor="end" style="stroke-width:0.14px" >130</text>
<text transform="translate(198.2,823.8788) scale(1.07,1)" font-size="8.6" text-anchor="end" style="stroke-width:0.14px" >100</text>
<path d="M203.7,826.0 C204.3,826.1 206.4,826.3 207.5,826.5 C208.6,826.7 209.6,827.5 210.4,827.3 C211.2,827.1 211.5,825.8 212.3,825.4 C213.1,825.0 214.4,825.4 215.2,825.0 C216.0,824.6 216.5,823.2 217.1,823.1 C217.7,823.0 218.3,823.8 219.0,824.6 C219.7,825.4 220.3,828.1 221.0,827.9 C221.7,827.6 222.3,825.2 222.9,823.1 C223.5,821.0 224.1,817.5 224.8,815.4 C225.5,813.3 226.4,812.7 227.3,810.6 C228.2,808.5 229.3,803.9 230.0,802.9 C230.7,801.9 230.9,804.6 231.5,804.8 C232.1,804.9 232.7,803.7 233.5,803.8 C234.3,803.9 235.2,805.5 236.3,805.4 C237.4,805.2 239.1,803.5 240.2,802.9 C241.3,802.2 242.0,801.6 243.1,801.5 C244.2,801.4 246.1,802.0 246.9,802.3 C247.7,802.6 247.2,804.0 247.9,803.5 C248.6,803.0 250.1,800.2 250.8,799.6 C251.5,799.0 251.2,799.1 251.9,799.6 C252.6,800.1 253.8,801.5 254.8,802.5 C255.8,803.5 256.7,805.1 257.7,805.8 C258.7,806.5 259.8,806.9 260.6,806.9 C261.4,806.9 261.9,805.7 262.5,805.8 C263.1,805.9 263.8,807.3 264.4,807.7 C265.0,808.1 265.6,809.0 266.3,808.3 C267.0,807.6 267.7,804.4 268.3,803.5 C268.9,802.6 269.6,803.4 270.2,803.1 C270.8,802.8 271.3,801.8 272.1,801.9 C272.9,802.0 273.9,803.0 275.0,803.5 C276.1,804.0 277.7,805.6 278.8,805.0 C279.9,804.4 280.9,800.1 281.7,800.0 C282.5,799.9 282.9,803.7 283.7,804.4 C284.5,805.1 285.7,804.1 286.5,804.4 C287.3,804.7 287.7,805.6 288.5,806.3 C289.3,806.9 290.5,808.9 291.3,808.3 C292.1,807.7 292.7,804.2 293.3,802.5 C293.9,800.8 294.7,798.3 295.2,798.1 C295.7,797.9 296.0,800.1 296.5,801.5 C297.0,802.9 297.5,805.8 298.1,806.3 C298.7,806.8 299.3,805.4 300.0,804.4 C300.7,803.4 301.7,801.0 302.3,800.0 C302.9,799.0 303.2,797.5 303.8,798.1 C304.4,798.7 305.2,802.3 305.8,803.5 C306.4,804.7 306.8,805.6 307.3,805.4 C307.8,805.2 308.1,802.5 308.7,802.5 C309.2,802.5 310.3,804.9 310.6,805.4" fill="none" stroke-width="1.7" stroke-linejoin="round" stroke-linecap="round"/>
<line x1="219.6" y1="760.6" x2="219.6" y2="774.7" stroke-width="1.7"/>
<polygon points="219.6,781.9 215.7,773.7 223.5,773.7" stroke="none"/>
<line x1="324" y1="841.9" x2="346.2" y2="841.9" stroke-width="1.7"/>
<text transform="translate(326.9,853.2) scale(0.98,1)" font-size="10.2" text-anchor="start" style="stroke-width:0.31px" >50 s</text>
</g>
</svg>
</body></html>
